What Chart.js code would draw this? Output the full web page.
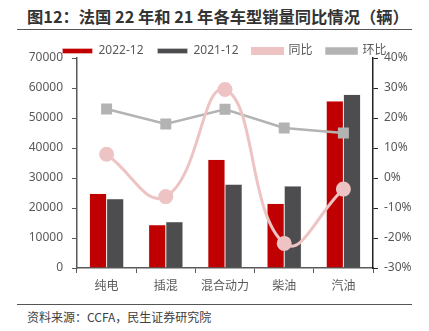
<!DOCTYPE html>
<html>
<head>
<meta charset="utf-8">
<script src="https://cdn.jsdelivr.net/npm/chart.js@4.4.0/dist/chart.umd.min.js"></script>
<style>
  body { margin: 0; width: 429px; height: 331px; background: #fff; position: relative; overflow: hidden;
         font-family: "Noto Sans CJK SC", "Noto Sans", sans-serif; }
  #title { position: absolute; left: 27px; top: 4px; font-size: 16.3px; font-weight: bold; color: #333; white-space: nowrap; }
  .rule { position: absolute; left: 17px; width: 395px; height: 0; border-top: 1.5px solid #555; }
  #source { position: absolute; left: 27px; top: 308px; font-size: 12px; color: #404040; white-space: nowrap; }
  #wrap { position: absolute; left: 0; top: 22px; width: 429px; height: 278px; }
</style>
</head>
<body>
<div id="title">图12：法国 22 年和 21 年各车型销量同比情况（辆）</div>
<div class="rule" style="top:29px"></div>
<div id="wrap"><canvas id="chart"></canvas></div>
<div class="rule" style="top:304px"></div>
<div id="source">资料来源：CCFA，民生证券研究院</div>
<script>
// values
const categories = ['纯电', '插混', '混合动力', '柴油', '汽油'];
const sales2022 = [24800, 14400, 36200, 21500, 55700];
const sales2021 = [23100, 15400, 27900, 27300, 57800];
const yoy = [7.9, -6.2, 29.5, -21.8, -3.7];   // 同比 %
const mom = [23.0, 18.0, 22.9, 16.7, 15.0];   // 环比 %

const leftTicks = [0, 10000, 20000, 30000, 40000, 50000, 60000, 70000];
const rightTicks = [-30, -20, -10, 0, 10, 20, 30, 40];

const axisColor = '#595959';
const tickFont = { family: '"Noto Sans", "Noto Sans CJK SC", sans-serif', size: 12 };

// nudge the legend closer to the plot, like the original
const legendShift = {
    id: 'legendShift',
    afterLayout: (chart) => {
        const lg = chart.legend;
        lg.top += 9; lg.bottom += 9;
        lg.left += 10; lg.right += 10;
    }
};

const ctx = document.getElementById('chart');

new Chart(ctx, {
    data: {
        labels: categories,
        datasets: [
            {
                type: 'bar', label: '2022-12', data: sales2022, yAxisID: 'y',
                backgroundColor: '#C00000', borderColor: '#f2d0d0', borderWidth: 0.5,
                barPercentage: 1, categoryPercentage: 0.58, order: 2
            },
            {
                type: 'bar', label: '2021-12', data: sales2021, yAxisID: 'y',
                backgroundColor: '#4D4D4F', borderColor: '#d8d8d8', borderWidth: 0.5,
                barPercentage: 1, categoryPercentage: 0.58, order: 2
            },
            {
                type: 'line', label: '同比', data: yoy, yAxisID: 'y1',
                borderColor: '#EEC3C3', backgroundColor: '#EEC3C3', borderWidth: 3,
                tension: 0.45, pointStyle: 'circle', pointRadius: 6, order: 0
            },
            {
                type: 'line', label: '环比', data: mom, yAxisID: 'y1',
                borderColor: '#B3B3B3', backgroundColor: '#B3B3B3', borderWidth: 2.5,
                tension: 0, pointStyle: 'rect', pointRadius: 6, order: 0
            }
        ]
    },
    options: {
        responsive: true,
        maintainAspectRatio: false,
        animation: false,
        layout: { padding: 0 },
        plugins: {
            tooltip: { enabled: false },
            legend: {
                display: true,
                position: 'top',
                labels: {
                    boxWidth: 30, boxHeight: 5, padding: 14,
                    color: axisColor,
                    font: { family: '"Noto Sans", "Noto Sans CJK SC", sans-serif', size: 12 },
                    sort: (a, b) => a.datasetIndex - b.datasetIndex
                }
            }
        },
        scales: {
            x: {
                offset: true,
                grid: { display: true, offset: true, drawOnChartArea: false, drawTicks: true, tickLength: 5, color: axisColor },
                border: { display: true, color: axisColor, width: 1.5 },
                ticks: { color: axisColor, font: tickFont, padding: 6 },
                afterFit: (s) => { s.height = 32; }
            },
            y: {
                position: 'left',
                min: 0, max: 70000,
                afterBuildTicks: (s) => { s.ticks = leftTicks.map(v => ({ value: v })); },
                grid: { display: true, drawOnChartArea: false, drawTicks: true, tickLength: 5, color: axisColor },
                border: { display: true, color: axisColor, width: 1.5 },
                ticks: { color: axisColor, font: tickFont, padding: 9, callback: (v) => String(v) },
                afterFit: (s) => { s.width = 77; }
            },
            y1: {
                position: 'right',
                min: -30, max: 40,
                afterBuildTicks: (s) => { s.ticks = rightTicks.map(v => ({ value: v })); },
                grid: { display: true, drawOnChartArea: false, drawTicks: true, tickLength: 5, color: '#222' },
                border: { display: true, color: '#222', width: 1.5 },
                ticks: { color: axisColor, font: tickFont, padding: 6, callback: (v) => v + '%' },
                afterFit: (s) => { s.width = 56; }
            }
        }
    },
    plugins: [legendShift]
});
</script>
</body>
</html>
